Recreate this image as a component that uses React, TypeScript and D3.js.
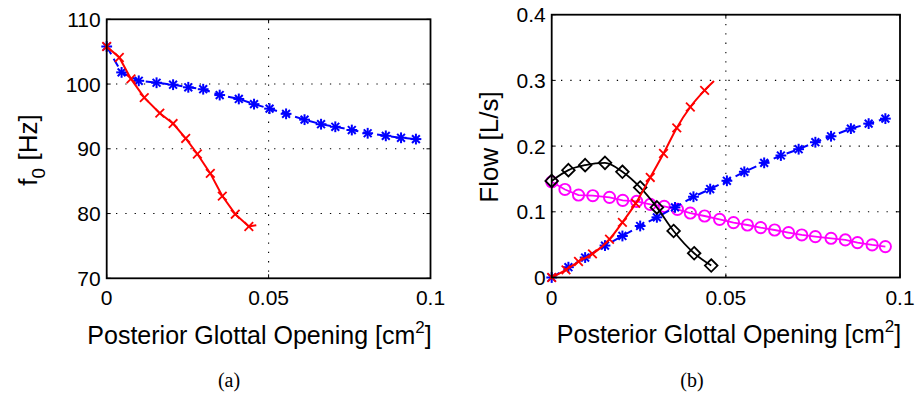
import React from "react";
import * as d3 from "d3";

// ---------- Data (a): f0 vs posterior glottal opening ----------
const aBlueX = [0, 0.0046, 0.0099, 0.0154, 0.0205, 0.0252, 0.0298, 0.0349, 0.0408, 0.0455, 0.0503, 0.0554, 0.0611, 0.0662, 0.0706, 0.0757, 0.0806, 0.0862, 0.0909, 0.0955];
const aBlueY = [105.8, 101.8, 100.5, 100.2, 99.9, 99.5, 99.2, 98.3, 97.7, 96.9, 96.2, 95.4, 94.5, 93.8, 93.4, 92.9, 92.4, 92.0, 91.7, 91.5];
const aRedX = [0, 0.0039, 0.0075, 0.0116, 0.0164, 0.0205, 0.0244, 0.028, 0.032, 0.0357, 0.0397, 0.0439];
const aRedY = [105.8, 104.1, 100.8, 97.9, 95.5, 93.9, 91.6, 89.2, 86.2, 82.7, 79.9, 78.0];
const aRedTail = [[0.0462, 78.2]];

// ---------- Data (b): flow vs posterior glottal opening ----------
const bBlackX = [0, 0.0048, 0.0096, 0.0153, 0.0203, 0.0254, 0.0302, 0.035, 0.0409, 0.0458];
const bBlackY = [0.147, 0.1634, 0.171, 0.1745, 0.1609, 0.137, 0.1067, 0.0708, 0.0369, 0.0182];
const bMagX = [0, 0.0038, 0.0077, 0.0118, 0.0166, 0.0204, 0.0244, 0.0283, 0.0323, 0.0361, 0.0398, 0.0439, 0.0482, 0.0522, 0.0562, 0.06, 0.064, 0.068, 0.0718, 0.0757, 0.0802, 0.0843, 0.0878, 0.092, 0.0958];
const bMagY = [0.1457, 0.134, 0.1255, 0.1245, 0.122, 0.1174, 0.1158, 0.1113, 0.1083, 0.1037, 0.0981, 0.0936, 0.0885, 0.0835, 0.0799, 0.0759, 0.0723, 0.0683, 0.0648, 0.0622, 0.0597, 0.0572, 0.0531, 0.0496, 0.047];
const bBlueX = [0, 0.0048, 0.0096, 0.0153, 0.0203, 0.0254, 0.0302, 0.0354, 0.0407, 0.0455, 0.0503, 0.0553, 0.061, 0.0658, 0.0709, 0.0757, 0.0802, 0.0859, 0.091, 0.0958];
const bBlueY = [0, 0.0157, 0.0304, 0.0486, 0.0632, 0.0784, 0.0916, 0.1067, 0.1229, 0.1346, 0.1472, 0.1609, 0.1745, 0.1857, 0.1953, 0.2059, 0.215, 0.2266, 0.2342, 0.2418];
const bRedX = [0, 0.0041, 0.0077, 0.0117, 0.0166, 0.0203, 0.0241, 0.0283, 0.0321, 0.0359, 0.0398, 0.0439];
const bRedY = [0, 0.0116, 0.0243, 0.0359, 0.0582, 0.084, 0.1128, 0.1523, 0.1887, 0.2277, 0.2595, 0.2848];
const bRedTail = [[0.0466, 0.299]];

const xTicks = [0, 0.05, 0.1];
const xTickLabels = ["0", "0.05", "0.1"];
const aYTicks = [70, 80, 90, 100, 110];
const bYTicks = [0, 0.1, 0.2, 0.3, 0.4];
const bYTickLabels = ["0", "0.1", "0.2", "0.3", "0.4"];

const FONT = "'Liberation Sans', Arial, Helvetica, sans-serif";
const SERIF = "'Liberation Serif', 'DejaVu Serif', serif";
const BLUE = "#0000ff";
const RED = "#ff0000";
const MAG = "#ff00ff";

type Pt = [number, number];
const zip = (xs: number[], ys: number[]): Pt[] => xs.map((x, i) => [x, ys[i]]);

function Star({ x, y, c }: { x: number; y: number; c: string }) {
  const s = 5.4, d = 3.9;
  return (
    <g stroke={c} strokeWidth={2}>
      <line x1={x - s} y1={y} x2={x + s} y2={y} />
      <line x1={x} y1={y - s} x2={x} y2={y + s} />
      <line x1={x - d} y1={y - d} x2={x + d} y2={y + d} />
      <line x1={x - d} y1={y + d} x2={x + d} y2={y - d} />
    </g>
  );
}
function Cross({ x, y, c }: { x: number; y: number; c: string }) {
  const d = 4.3;
  return (
    <g stroke={c} strokeWidth={1.8}>
      <line x1={x - d} y1={y - d} x2={x + d} y2={y + d} />
      <line x1={x - d} y1={y + d} x2={x + d} y2={y - d} />
    </g>
  );
}
function Circle({ x, y, c }: { x: number; y: number; c: string }) {
  return <circle cx={x} cy={y} r={5.6} fill="none" stroke={c} strokeWidth={1.9} />;
}
function Diamond({ x, y, c }: { x: number; y: number; c: string }) {
  const d = 6.3;
  return <path d={`M${x},${y - d}L${x + d},${y}L${x},${y + d}L${x - d},${y}Z`} fill="none" stroke={c} strokeWidth={1.8} />;
}

interface PanelProps {
  x0: number; x1: number; y0: number; y1: number;
  yDomain: [number, number];
  yTicks: number[]; yTickLabels: string[];
  children: (sx: d3.ScaleLinear<number, number>, sy: d3.ScaleLinear<number, number>) => React.ReactNode;
}

function Panel({ x0, x1, y0, y1, yDomain, yTicks, yTickLabels, children }: PanelProps) {
  const sx = d3.scaleLinear().domain([0, 0.1]).range([x0, x1]);
  const sy = d3.scaleLinear().domain(yDomain).range([y1, y0]);
  const tl = 4;
  return (
    <g>
      {xTicks.slice(1, -1).map((t) => (
        <line key={"gx" + t} x1={sx(t)} x2={sx(t)} y1={y0} y2={y1} stroke="#000" strokeWidth={1.1} strokeDasharray="1.3,8" />
      ))}
      {yTicks.slice(1, -1).map((t) => (
        <line key={"gy" + t} x1={x0} x2={x1} y1={sy(t)} y2={sy(t)} stroke="#000" strokeWidth={1.1} strokeDasharray="1.3,8" />
      ))}
      {children(sx, sy)}
      <rect x={x0} y={y0} width={x1 - x0} height={y1 - y0} fill="none" stroke="#000" strokeWidth={1.8} />
      {xTicks.map((t) => (
        <g key={"tx" + t} stroke="#000" strokeWidth={1}>
          <line x1={sx(t)} x2={sx(t)} y1={y1} y2={y1 - tl} />
          <line x1={sx(t)} x2={sx(t)} y1={y0} y2={y0 + tl} />
        </g>
      ))}
      {yTicks.map((t) => (
        <g key={"ty" + t} stroke="#000" strokeWidth={1}>
          <line x1={x0} x2={x0 + tl} y1={sy(t)} y2={sy(t)} />
          <line x1={x1} x2={x1 - tl} y1={sy(t)} y2={sy(t)} />
        </g>
      ))}
      {xTicks.map((t, i) => (
        <text key={"lx" + t} x={sx(t)} y={y1 + 27} textAnchor="middle" fontFamily={FONT} fontSize={21}>
          {xTickLabels[i]}
        </text>
      ))}
      {yTicks.map((t, i) => (
        <text key={"ly" + t} x={x0 - 6} y={sy(t) + 7.5} textAnchor="end" fontFamily={FONT} fontSize={21}>
          {yTickLabels[i]}
        </text>
      ))}
    </g>
  );
}

export default function App() {
  const lineGen = (sx: any, sy: any, curve: any = d3.curveLinear) =>
    d3.line<Pt>().x((d) => sx(d[0])).y((d) => sy(d[1])).curve(curve);

  return (
    <svg width={922} height={397} style={{ position: "fixed", left: 0, top: 0, background: "#fff" }}>
      <rect width={922} height={397} fill="#fff" />
      <Panel x0={106.7} x1={430.5} y0={19.3} y1={278.3} yDomain={[70, 110]} yTicks={aYTicks} yTickLabels={aYTicks.map(String)}>
        {(sx, sy) => {
          const blue = zip(aBlueX, aBlueY);
          const red = zip(aRedX, aRedY);
          const redLine = red.concat(aRedTail as Pt[]);
          return (
            <g>
              <path d={lineGen(sx, sy)(blue) || ""} fill="none" stroke={BLUE} strokeWidth={2} strokeDasharray="9,5" />
              {blue.map((p, i) => <Star key={"ab" + i} x={sx(p[0])} y={sy(p[1])} c={BLUE} />)}
              <path d={lineGen(sx, sy)(redLine) || ""} fill="none" stroke={RED} strokeWidth={2} />
              {red.map((p, i) => <Cross key={"ar" + i} x={sx(p[0])} y={sy(p[1])} c={RED} />)}
            </g>
          );
        }}
      </Panel>
      <Panel x0={551.7} x1={900} y0={14.7} y1={277.5} yDomain={[0, 0.4]} yTicks={bYTicks} yTickLabels={bYTickLabels}>
        {(sx, sy) => {
          const blue = zip(bBlueX, bBlueY);
          const mag = zip(bMagX, bMagY);
          const black = zip(bBlackX, bBlackY);
          const red = zip(bRedX, bRedY);
          const redLine = red.concat(bRedTail as Pt[]);
          return (
            <g>
              <path d={lineGen(sx, sy)(mag) || ""} fill="none" stroke={MAG} strokeWidth={1.8} />
              {mag.map((p, i) => <Circle key={"bm" + i} x={sx(p[0])} y={sy(p[1])} c={MAG} />)}
              <path d={lineGen(sx, sy)(blue) || ""} fill="none" stroke={BLUE} strokeWidth={2} strokeDasharray="9,5" />
              {blue.map((p, i) => <Star key={"bb" + i} x={sx(p[0])} y={sy(p[1])} c={BLUE} />)}
              <path d={lineGen(sx, sy, d3.curveMonotoneX)(black) || ""} fill="none" stroke="#000" strokeWidth={1.8} />
              {black.map((p, i) => <Diamond key={"bk" + i} x={sx(p[0])} y={sy(p[1])} c="#000" />)}
              <path d={lineGen(sx, sy, d3.curveMonotoneX)(redLine) || ""} fill="none" stroke={RED} strokeWidth={2} />
              {red.map((p, i) => <Cross key={"br" + i} x={sx(p[0])} y={sy(p[1])} c={RED} />)}
            </g>
          );
        }}
      </Panel>

      <text transform="translate(37,150) rotate(-90)" textAnchor="middle" fontFamily={FONT} fontSize={26}>
        f<tspan fontSize={19} dy={8}>0</tspan><tspan dy={-8}> [Hz]</tspan>
      </text>
      <text transform="translate(498,147) rotate(-90)" textAnchor="middle" fontFamily={FONT} fontSize={26}>
        Flow [L/s]
      </text>
      <text x={259.5} y={344} textAnchor="middle" fontFamily={FONT} fontSize={25}>
        Posterior Glottal Opening [cm<tspan fontSize={17} dy={-11}>2</tspan><tspan dy={11}>]</tspan>
      </text>
      <text x={729} y={343} textAnchor="middle" fontFamily={FONT} fontSize={25}>
        Posterior Glottal Opening [cm<tspan fontSize={17} dy={-11}>2</tspan><tspan dy={11}>]</tspan>
      </text>
      <text x={229} y={387} textAnchor="middle" fontFamily={SERIF} fontSize={20}>(a)</text>
      <text x={692} y={387} textAnchor="middle" fontFamily={SERIF} fontSize={20}>(b)</text>
    </svg>
  );
}
